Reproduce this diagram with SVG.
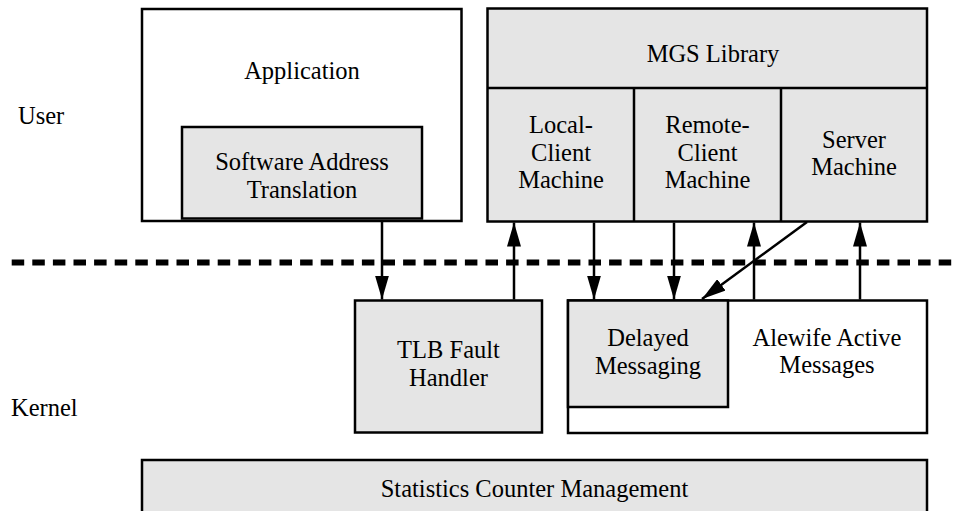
<svg xmlns="http://www.w3.org/2000/svg" width="959" height="511" viewBox="0 0 959 511" font-family="'Liberation Serif', 'Times New Roman', serif">
<style>
text{font-family:"Liberation Serif","Times New Roman",serif;font-size:24.5px;fill:#000;text-anchor:middle}
.lbl{text-anchor:start}
.box{fill:#fff;stroke:#000;stroke-width:2.5}
.gbox{fill:#e5e5e5;stroke:#000;stroke-width:2.5}
.conn{stroke:#000;stroke-width:2.5;fill:none}
</style>
<defs>
<marker id="ah" markerUnits="userSpaceOnUse" markerWidth="24" markerHeight="14" refX="24" refY="7" orient="auto">
<path d="M0,0 L24,7 L0,14 Z" fill="#000"/>
</marker>
</defs>
<rect width="959" height="511" fill="#fff"/>
<text class="lbl" x="18" y="124">User</text>
<text class="lbl" x="11" y="416">Kernel</text>
<line x1="11.7" y1="262.5" x2="953" y2="262.5" stroke="#000" stroke-width="6" stroke-dasharray="12.5 8.1"/>
<g id="application">
<rect class="box" x="142" y="9" width="319.5" height="212"/>
<text x="302" y="79">Application</text>
</g>
<g id="sat">
<rect class="gbox" x="182" y="127" width="240" height="91.5" stroke-width="3"/>
<text x="302" y="170">Software Address</text>
<text x="302" y="197.5">Translation</text>
</g>
<g id="mgs">
<rect class="gbox" x="487.5" y="8.5" width="439.5" height="213"/>
<line class="conn" x1="487.5" y1="88" x2="927" y2="88"/>
<text x="713" y="62">MGS Library</text>
</g>
<g id="local">
<line class="conn" x1="634" y1="88" x2="634" y2="221.5"/>
<text x="561" y="133">Local-</text>
<text x="561" y="160.5">Client</text>
<text x="561" y="188">Machine</text>
</g>
<g id="remote">
<line class="conn" x1="781" y1="88" x2="781" y2="221.5"/>
<text x="707.5" y="133">Remote-</text>
<text x="707.5" y="160.5">Client</text>
<text x="707.5" y="188">Machine</text>
</g>
<g id="server">
<text x="854" y="147.5">Server</text>
<text x="854" y="175">Machine</text>
</g>
<g id="tlb">
<rect class="gbox" x="355" y="300.5" width="187" height="132"/>
<text x="448.5" y="358">TLB Fault</text>
<text x="448.5" y="385.5">Handler</text>
</g>
<g id="alewife">
<rect class="box" x="568" y="300.5" width="359" height="132.5"/>
<text x="827" y="345.5">Alewife Active</text>
<text x="827" y="373">Messages</text>
</g>
<g id="delayed">
<rect class="gbox" x="568" y="300.5" width="160" height="106.5" stroke-width="3"/>
<text x="648" y="346">Delayed</text>
<text x="648" y="373.5">Messaging</text>
</g>
<g id="stats">
<rect class="gbox" x="142" y="460" width="785" height="70" stroke-width="3"/>
<text x="534.5" y="497">Statistics Counter Management</text>
</g>
<g id="connectors">
<line class="conn" x1="382" y1="220" x2="382" y2="299.5" marker-end="url(#ah)"/>
<line class="conn" x1="514" y1="299.5" x2="514" y2="222.5" marker-end="url(#ah)"/>
<line class="conn" x1="594" y1="222.5" x2="594" y2="299.5" marker-end="url(#ah)"/>
<line class="conn" x1="674" y1="222.5" x2="674" y2="299.5" marker-end="url(#ah)"/>
<line class="conn" x1="807" y1="222" x2="702" y2="299" marker-end="url(#ah)"/>
<line class="conn" x1="754" y1="299.5" x2="754" y2="222.5" marker-end="url(#ah)"/>
<line class="conn" x1="860" y1="299.5" x2="860" y2="222.5" marker-end="url(#ah)"/>
</g>
</svg>
